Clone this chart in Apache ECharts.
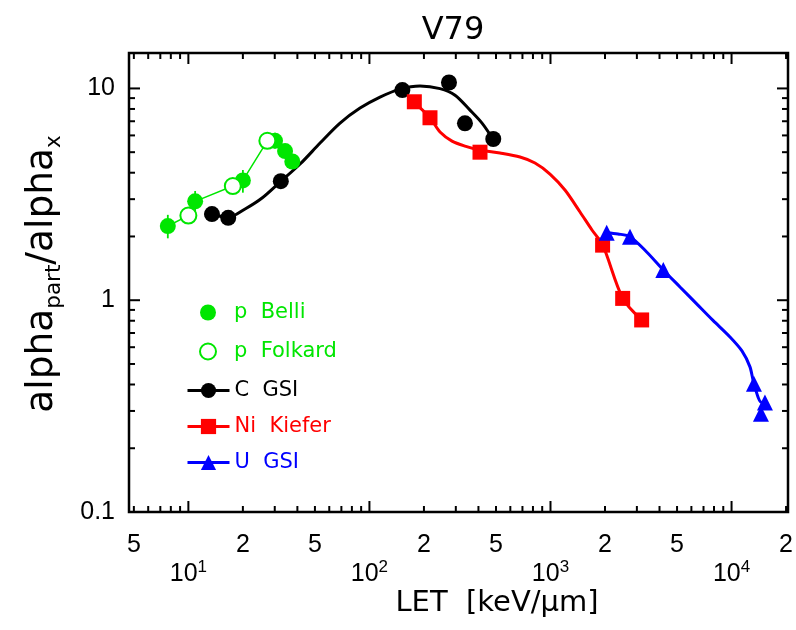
<!DOCTYPE html>
<html><head><meta charset="utf-8">
<script src="https://cdn.jsdelivr.net/npm/echarts@6/dist/echarts.min.js"></script>
<style>html,body{margin:0;padding:0;background:#fff}#c{width:796px;height:630px}</style>
</head><body><div id="c"></div>
<script>
// ---- data ----
const pBelliX = [7.7, 10.9, 20, 30.1, 34.2, 37.5];
const pBelliY = [2.24, 2.93, 3.68, 5.66, 5.06, 4.52];
const pBelliErrLo = [1.96, 2.62, 3.22, 5.20, null, null];
const pBelliErrHi = [2.53, 3.28, 4.12, 6.17, null, null];

const pFolkardX = [10.0, 17.6, 27.3];
const pFolkardY = [2.51, 3.46, 5.66];

const cGsiX = [13.5, 16.6, 32.4, 152, 275, 337, 483];
const cGsiY = [2.55, 2.45, 3.65, 9.82, 10.67, 6.84, 5.77];
const cFitX = [13.52, 16.57, 20.57, 25.53, 32.09, 41.40, 53.37, 68.81, 88.74, 114.4, 147.6, 190.3, 245.4, 297.0, 359.3, 418.6, 481.5];
const cFitY = [2.554, 2.458, 2.696, 3.038, 3.614, 4.395, 5.521, 6.861, 8.074, 9.100, 9.924, 10.28, 9.98, 9.29, 7.90, 6.861, 5.766];

const niKieferX = [177, 216, 408, 1940, 2504, 3188];
const niKieferY = [8.65, 7.27, 5.0, 1.82, 1.02, 0.807];
const niFitX = [176.3, 216.1, 245.4, 285.8, 337.3, 408.1, 526.1, 678.6, 821.1, 993.6, 1202, 1456, 1695, 1942, 2504, 3188];
const niFitY = [8.617, 7.265, 6.222, 5.641, 5.344, 5.117, 4.953, 4.742, 4.443, 3.943, 3.314, 2.609, 2.146, 1.823, 1.022, 0.807];

const uGsiX = [2043, 2748, 4197, 13295, 15290, 14530];
const uGsiY = [2.08, 1.995, 1.39, 0.403, 0.329, 0.291];
const uFitX = [2043, 2359, 2748, 3398, 4197, 5190, 6417, 7896, 9800, 11414, 12640, 13295, 14660, 15290];
const uFitY = [2.084, 2.055, 1.995, 1.690, 1.390, 1.155, 0.961, 0.803, 0.671, 0.5765, 0.4845, 0.4029, 0.3289, 0.3289];

const xTickVals = [5,6,7,8,9,10,20,30,40,50,60,70,80,90,100,200,300,400,500,600,700,800,900,1000,2000,3000,4000,5000,6000,7000,8000,9000,10000,20000];
const yTickVals = [0.1,0.2,0.3,0.4,0.5,0.6,0.7,0.8,0.9,1,2,3,4,5,6,7,8,9,10];
const xMinorLabelVals = [5, 20, 50, 200, 500, 2000, 5000, 20000];
const xMinorLabelText = ['5', '2', '5', '2', '5', '2', '5', '2'];

const GREEN = '#00e600', RED = '#ff0000', BLUE = '#0000ff', BLACK = '#000000';
const NUMFONT = "'Liberation Sans', Arial, sans-serif";
const TXTFONT = "'DejaVu Sans', sans-serif";

function zip(a, b) { return a.map((v, i) => [v, b[i]]); }
function isPow10(v) { const l = Math.log10(v); return Math.abs(l - Math.round(l)) < 1e-6; }

const pAll = zip(pBelliX, pBelliY).concat(zip(pFolkardX, pFolkardY)).sort((a, b) => a[0] - b[0]);
const errData = pBelliX.map((x, i) => [x, pBelliErrLo[i], pBelliErrHi[i]]).filter(d => d[1] != null);

const chart = echarts.init(document.getElementById('c'), null, {renderer: 'canvas'});

const option = {
  animation: false,
  backgroundColor: '#fff',
  grid: {left: 129, right: 8, top: 53, bottom: 118, show: true, borderColor: '#000', borderWidth: 2.5, backgroundColor: 'transparent'},
  xAxis: {
    type: 'log', logBase: 10, min: 4.7, max: 20500,
    axisLine: {show: false}, axisTick: {show: false}, splitLine: {show: false},
    axisLabel: {
      margin: 47,
      formatter: function (v) { if (!isPow10(v)) return ''; return '{b|10}{s|' + Math.round(Math.log10(v)) + '}'; },
      rich: {
        b: {fontSize: 25, fontFamily: NUMFONT, color: '#000', lineHeight: 30},
        s: {fontSize: 17, fontFamily: NUMFONT, color: '#000', lineHeight: 18, verticalAlign: 'top'}
      }
    }
  },
  yAxis: {
    type: 'log', logBase: 10, min: 0.1, max: 14.7,
    axisLine: {show: false}, axisTick: {show: false}, splitLine: {show: false},
    axisLabel: {
      margin: 14, fontSize: 25, fontFamily: NUMFONT, color: '#000',
      formatter: function (v) { if (!isPow10(v)) return ''; const e = Math.round(Math.log10(v)); return e < 0 ? '0.' + '0'.repeat(-e - 1) + '1' : String(Math.pow(10, e)); }
    }
  },
  legend: [
    {
      orient: 'vertical', left: 194, top: 297, itemWidth: 42, itemHeight: 16, itemGap: 18, selectedMode: false,
      textStyle: {fontSize: 21, fontFamily: TXTFONT},
      data: [{name: 'p  Belli', textStyle: {color: GREEN}}, {name: 'p  Folkard', textStyle: {color: GREEN}}]
    },
    {
      orient: 'vertical', left: 181, top: 375, itemWidth: 42, itemHeight: 19, itemGap: 15, selectedMode: false,
      textStyle: {fontSize: 21, fontFamily: TXTFONT},
      lineStyle: {width: 3},
      data: [{name: 'C  GSI', textStyle: {color: BLACK}}, {name: 'Ni  Kiefer', textStyle: {color: RED}}, {name: 'U  GSI', textStyle: {color: BLUE}}]
    }
  ],
  graphic: [
    {type: 'text', x: 453, y: 31, style: {text: 'V79', fontSize: 32, fontFamily: TXTFONT, fill: '#000', align: 'center', verticalAlign: 'middle'}},
    {type: 'text', x: 497, y: 603, style: {text: 'LET  [keV/µm]', fontSize: 29, fontFamily: TXTFONT, fill: '#000', align: 'center', verticalAlign: 'middle'}},
    {type: 'text', x: 42, y: 274, rotation: Math.PI / 2, style: {
      text: '{m|alpha}{s|part}{m|/}{m|alpha}{s|x}', align: 'center', verticalAlign: 'middle',
      rich: {
        m: {fontSize: 37.5, fontFamily: TXTFONT, fill: '#000', lineHeight: 47},
        s: {fontSize: 21.5, fontFamily: TXTFONT, fill: '#000', lineHeight: 21, verticalAlign: 'bottom'}
      }
    }}
  ],
  series: [
    // axis ticks drawn through the axes' own scales
    {
      type: 'custom', silent: true, clip: false, z: 5,
      data: xTickVals.map(v => [v, 1]),
      renderItem: function (params, api) {
        const v = api.value(0); const p = api.coord([v, 1]); const cs = params.coordSys;
        const len = isPow10(v) ? 11 : 6; const b = cs.y + cs.height;
        return {type: 'group', children: [
          {type: 'line', shape: {x1: p[0], y1: b, x2: p[0], y2: b - len}, style: {stroke: '#000', lineWidth: 2}},
          {type: 'line', shape: {x1: p[0], y1: cs.y, x2: p[0], y2: cs.y + len}, style: {stroke: '#000', lineWidth: 2}}
        ]};
      }
    },
    {
      type: 'custom', silent: true, clip: false, z: 5,
      data: yTickVals.map(v => [10, v]),
      renderItem: function (params, api) {
        const v = api.value(1); const p = api.coord([10, v]); const cs = params.coordSys;
        const len = isPow10(v) ? 11 : 6; const r = cs.x + cs.width;
        return {type: 'group', children: [
          {type: 'line', shape: {x1: cs.x, y1: p[1], x2: cs.x + len, y2: p[1]}, style: {stroke: '#000', lineWidth: 2}},
          {type: 'line', shape: {x1: r, y1: p[1], x2: r - len, y2: p[1]}, style: {stroke: '#000', lineWidth: 2}}
        ]};
      }
    },
    {
      type: 'custom', silent: true, clip: false, z: 5,
      data: xMinorLabelVals.map(v => [v, 1]),
      renderItem: function (params, api) {
        const p = api.coord([api.value(0), 1]); const cs = params.coordSys;
        return {type: 'text', x: p[0], y: cs.y + cs.height + 33, style: {text: xMinorLabelText[params.dataIndex], fontSize: 25, fontFamily: NUMFONT, fill: '#000', align: 'center', verticalAlign: 'middle'}};
      }
    },
    // fitted curves
    {name: 'C  GSI', type: 'line', data: zip(cFitX, cFitY), smooth: 0.3, showSymbol: false, symbol: 'circle', symbolSize: 16,
      itemStyle: {color: BLACK}, lineStyle: {color: BLACK, width: 3}, z: 2},
    {name: 'Ni  Kiefer', type: 'line', data: zip(niFitX, niFitY), smooth: 0.3, showSymbol: false, symbol: 'rect', symbolSize: 16,
      itemStyle: {color: RED}, lineStyle: {color: RED, width: 3}, z: 2},
    {name: 'U  GSI', type: 'line', data: zip(uFitX, uFitY), smooth: 0.3, showSymbol: false, symbol: 'triangle', symbolSize: 16,
      itemStyle: {color: BLUE}, lineStyle: {color: BLUE, width: 3}, z: 2},
    {name: 'p-line', type: 'line', data: pAll, showSymbol: false, lineStyle: {color: GREEN, width: 1.5}, z: 2},
    // error bars
    {
      type: 'custom', silent: true, z: 3, encode: {x: 0, y: [1, 2]},
      data: errData,
      renderItem: function (params, api) {
        const a = api.coord([api.value(0), api.value(1)]); const b = api.coord([api.value(0), api.value(2)]);
        return {type: 'line', shape: {x1: a[0], y1: a[1], x2: b[0], y2: b[1]}, style: {stroke: GREEN, lineWidth: 1.8}};
      }
    },
    // measured points
    {name: 'p  Belli', type: 'scatter', data: zip(pBelliX, pBelliY), symbol: 'circle', symbolSize: 16, itemStyle: {color: GREEN, opacity: 1}, z: 4},
    {name: 'p  Folkard', type: 'scatter', data: zip(pFolkardX, pFolkardY), symbol: 'emptyCircle', symbolSize: 16, itemStyle: {color: GREEN, borderWidth: 1.5, opacity: 1}, z: 4},
    {name: 'C  GSI', type: 'scatter', data: zip(cGsiX, cGsiY), symbol: 'circle', symbolSize: 16, itemStyle: {color: BLACK, opacity: 1}, z: 4},
    {name: 'Ni  Kiefer', type: 'scatter', data: zip(niKieferX, niKieferY), symbol: 'rect', symbolSize: 15, itemStyle: {color: RED, opacity: 1}, z: 4},
    {name: 'U  GSI', type: 'scatter', data: zip(uGsiX, uGsiY), symbol: 'triangle', symbolSize: 16, itemStyle: {color: BLUE, opacity: 1}, z: 4}
  ]
};
chart.setOption(option);
</script>
</body></html>
